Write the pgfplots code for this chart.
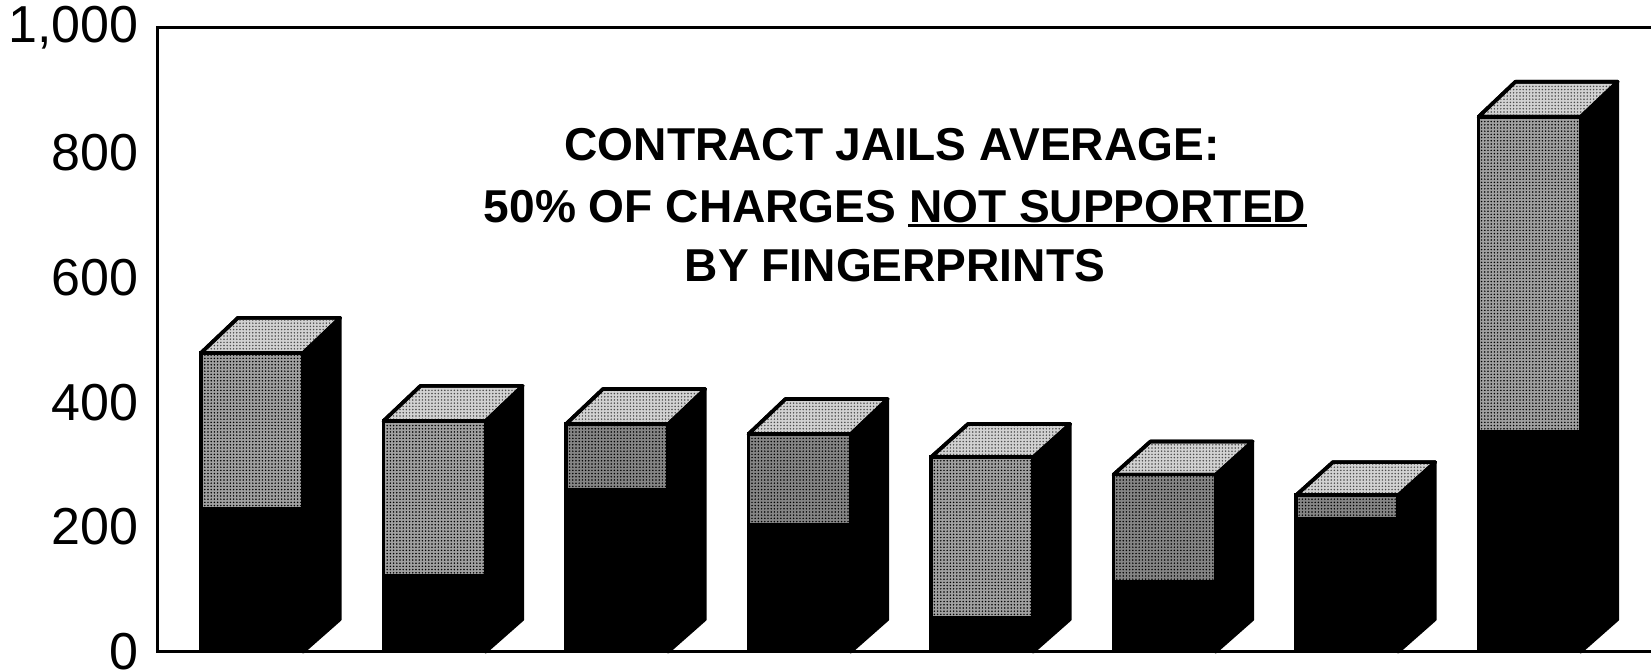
\documentclass[border=0pt]{standalone}
\usepackage{pgfplots}
\pgfplotsset{compat=1.18}
\usepackage{fontspec}
\usetikzlibrary{patterns}
\setmainfont{Liberation Sans}
\definecolor{facegray}{HTML}{A0A0A0}
\definecolor{facedark}{HTML}{858585}
\definecolor{topgray}{HTML}{D2D2D2}

% fine screen of dots laid over the shaded faces
\pgfdeclarepatternformonly{screen}{\pgfqpoint{-0.5pt}{-0.5pt}}{\pgfqpoint{1.1pt}{1.1pt}}{\pgfqpoint{1.6pt}{1.6pt}}{%
  \pgfpathcircle{\pgfqpoint{0pt}{0pt}}{0.42pt}\pgfusepath{fill}%
}

% side and top faces of one box: front left, front right, back left, back right, front top, back top
\newcommand{\boxfaces}[6]{%
  \addplot[fill=black,draw=black,line width=1.5pt,line join=round]
    coordinates {(#2,0) (#4,52) (#4,#6) (#2,#5)} --cycle;
  \addplot[fill=topgray,draw=black,line width=1.8pt,line join=round,
      postaction={pattern=screen,pattern color=black!70}]
    coordinates {(#1,#5) (#2,#5) (#4,#6) (#3,#6)} --cycle;
}

\pgfplotsset{jailaxis/.style={
  at={(79pt,10pt)},anchor=south west,
  scale only axis,width=752pt,height=312.3pt,
  xmin=-0.516,xmax=7.725,ymin=0,ymax=1000,
  xtick=\empty,
}}

\begin{document}
\begin{tikzpicture}[x=1pt,y=1pt]
\path[use as bounding box,clip] (0,0) rectangle (825.5,336);

% receding faces of the boxes
\begin{axis}[jailaxis,hide axis,clip=false]
  \boxfaces{-0.28}{0.28}{-0.078}{0.482}{479}{535}
  \boxfaces{0.72}{1.28}{0.922}{1.482}{370}{426}
  \boxfaces{1.72}{2.28}{1.922}{2.482}{365}{421}
  \boxfaces{2.72}{3.28}{2.922}{3.482}{349}{405}
  \boxfaces{3.72}{4.28}{3.922}{4.482}{312}{365}
  \boxfaces{4.72}{5.28}{4.922}{5.482}{284}{337}
  \boxfaces{5.72}{6.28}{5.922}{6.482}{251}{304}
  \boxfaces{6.72}{7.28}{6.922}{7.482}{857}{913}
\end{axis}

% front faces and frame
\begin{axis}[jailaxis,
  ybar stacked,bar width=0.56,
  ytick={0,200,400,600,800,1000},
  major tick length=0pt,
  axis line style={line width=1.5pt},
  /pgf/number format/assume math mode=true,
  /pgf/number format/1000 sep={,},
  yticklabel style={font=\fontsize{26}{26}\selectfont,inner sep=0pt,xshift=-9.5pt},
]
  \addplot[fill=black,draw=black,line width=1.8pt] coordinates
    {(0,230) (1,122) (2,260) (3,203) (4,54) (5,113) (6,213) (7,353)};
  \addplot[fill=facegray,draw=black,line width=1.8pt,
      postaction={pattern=screen,pattern color=black}] coordinates
    {(0,249) (1,248) (2,0) (3,0) (4,258) (5,0) (6,0) (7,504)};
  \addplot[fill=facedark,draw=black,line width=1.8pt,
      postaction={pattern=screen,pattern color=black}] coordinates
    {(0,0) (1,0) (2,105) (3,146) (4,0) (5,171) (6,38) (7,0)};
\end{axis}

% headline
\begin{scope}[every node/.style={font=\fontsize{23.05}{23.05}\selectfont\bfseries,inner sep=0pt,anchor=center}]
  \node at (446,263.5) {CONTRACT JAILS AVERAGE:};
  \node at (447.5,232.5) {50\% OF CHARGES NOT SUPPORTED};
  \node at (447.5,203) {BY FINGERPRINTS};
\end{scope}
\draw[line width=1.5pt] (454,223) -- (653.5,223);
\end{tikzpicture}
\end{document}
